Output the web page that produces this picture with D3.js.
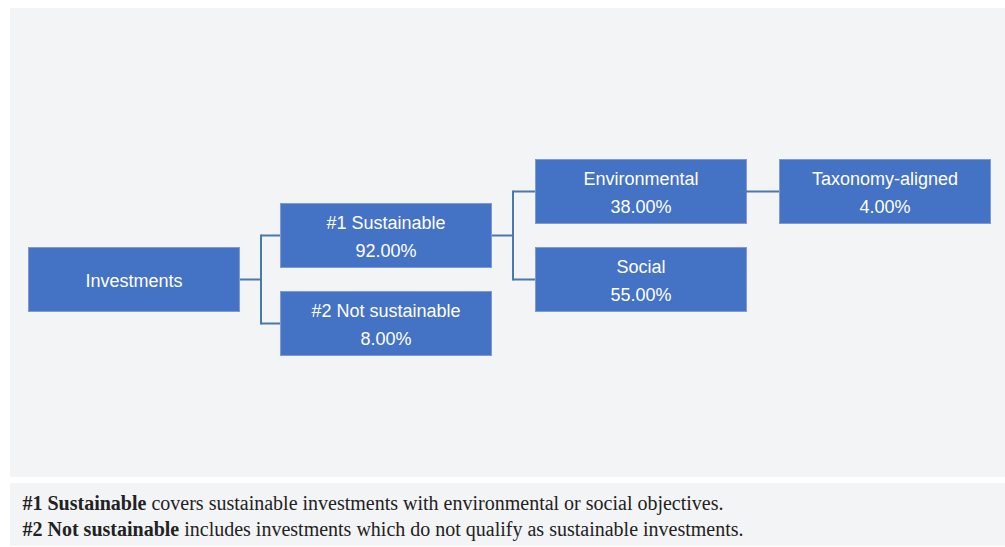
<!DOCTYPE html>
<html>
<head>
<meta charset="utf-8">
<script src="https://cdn.jsdelivr.net/npm/d3@7"></script>
<style>
  html, body { margin: 0; padding: 0; background: #ffffff; }
  svg { display: block; }
</style>
</head>
<body>
<svg id="chart" width="1005" height="547"></svg>
<script>
// ---- data ----
const nodeNames   = ["Investments", "#1 Sustainable", "#2 Not sustainable", "Environmental", "Social", "Taxonomy-aligned"];
const nodeParents = [null, "Investments", "Investments", "#1 Sustainable", "#1 Sustainable", "Environmental"];
const nodeValues  = [null, 92, 8, 38, 55, 4];
const footnoteBold = ["#1 Sustainable", "#2 Not sustainable"];
const footnoteText = [
  " covers sustainable investments with environmental or social objectives.",
  " includes investments which do not qualify as sustainable investments."
];

// ---- setup ----
const W = 1005, H = 547;
const svg = d3.select("#chart");
const boxW = 212, boxH = 65;
const boxFill = "#4472c4", boxStroke = "#7d9ad6", linkColor = "#4a79ac";

// panels
svg.append("rect").attr("x", 10).attr("y", 8).attr("width", W - 10).attr("height", 469).attr("fill", "#f3f4f6");
svg.append("rect").attr("x", 10).attr("y", 483).attr("width", W - 10).attr("height", 63).attr("fill", "#f3f4f6");

// hierarchy
const table = nodeNames.map((n, i) => ({ id: n, parent: nodeParents[i], value: nodeValues[i] }));
const root = d3.stratify().id(d => d.id).parentId(d => d.parent)(table);
d3.tree().nodeSize([88, 1]).separation(() => 1)(root);

const xScale = d3.scaleLinear().domain([0, 1, 2, 3]).range([28, 280, 535, 779]);
const yScale = d3.scaleLinear().domain([0, 1]).range([279.5, 280.5]);

const left = d => xScale(d.depth);
const cy = d => yScale(d.x);

// nodes
const fmt = d3.format(".2f");
const nodes = svg.append("g").selectAll("g").data(root.descendants()).join("g")
  .attr("transform", d => `translate(${left(d)},${cy(d) - boxH / 2})`);

nodes.append("rect")
  .attr("x", 0.5).attr("y", 0.5).attr("width", boxW - 1).attr("height", boxH - 1)
  .attr("fill", boxFill).attr("stroke", boxStroke).attr("stroke-width", 1);

nodes.each(function(d) {
  const sel = d3.select(this);
  const hasVal = d.data.value !== null;
  const t = sel.append("text")
    .attr("text-anchor", "middle")
    .attr("font-family", "'Liberation Sans', Arial, sans-serif")
    .attr("font-size", 18)
    .attr("fill", "#ffffff");
  if (hasVal) {
    t.append("tspan").attr("x", boxW / 2).attr("y", boxH / 2 - 6.5).text(d.data.id);
    t.append("tspan").attr("x", boxW / 2).attr("y", boxH / 2 + 21).text(fmt(d.data.value) + "%");
  } else {
    t.append("tspan").attr("x", boxW / 2).attr("y", boxH / 2 + 7.5).text(d.data.id);
  }
});

// links (drawn on top)
const g = svg.append("g");
root.descendants().filter(d => d.children).forEach(p => {
  const px = left(p) + boxW;
  const elbow = px + 21;
  const kids = p.children;
  if (kids.length === 1) {
    g.append("line")
      .attr("x1", px - 8).attr("x2", left(kids[0]))
      .attr("y1", cy(kids[0])).attr("y2", cy(kids[0]))
      .attr("stroke", linkColor).attr("stroke-width", 2);
  } else {
    g.append("line").attr("x1", px).attr("x2", elbow).attr("y1", cy(p)).attr("y2", cy(p))
      .attr("stroke", linkColor).attr("stroke-width", 2);
    const ys = kids.map(cy);
    g.append("line").attr("x1", elbow).attr("x2", elbow).attr("y1", d3.min(ys) - 1).attr("y2", d3.max(ys) + 1)
      .attr("stroke", linkColor).attr("stroke-width", 2);
    kids.forEach(k => {
      g.append("line").attr("x1", elbow).attr("x2", left(k)).attr("y1", cy(k)).attr("y2", cy(k))
        .attr("stroke", linkColor).attr("stroke-width", 2);
    });
  }
});

// footnotes
footnoteBold.forEach((b, i) => {
  const t = svg.append("text")
    .attr("x", 22.5).attr("y", 509.5 + i * 26)
    .attr("font-family", "'Liberation Serif', 'Times New Roman', serif")
    .attr("font-size", 20)
    .attr("fill", "#222222");
  t.append("tspan").attr("font-weight", "bold").text(b);
  t.append("tspan").text(footnoteText[i]);
});
</script>
</body>
</html>
